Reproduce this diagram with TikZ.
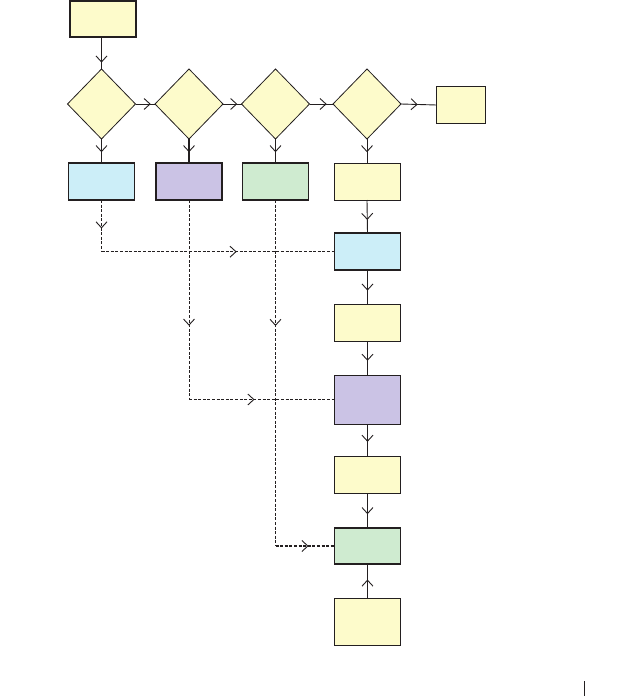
\documentclass[tikz,border=0pt]{standalone}
\usetikzlibrary{shapes.geometric,arrows.meta,decorations.markings}
\definecolor{fyel}{HTML}{FDFBCB}
\definecolor{fblu}{HTML}{CCEEF8}
\definecolor{fpur}{HTML}{CBC3E5}
\definecolor{fgrn}{HTML}{CFEBD0}
\definecolor{ink}{HTML}{231F20}
\tikzset{
  x=1pt,y=-1pt,
  boxthin/.style={draw=ink,line width=0.9pt,rectangle,inner sep=0,outer sep=0,minimum width=66pt,minimum height=37pt},
  boxthick/.style={boxthin,line width=1.5pt},
  dia/.style={draw=ink,line width=0.8pt,diamond,fill=fyel,inner sep=0,outer sep=0,minimum width=68pt,minimum height=70pt},
  conn/.style={draw=ink,line width=0.9pt},
  dconn/.style={draw=ink,line width=1pt,dash pattern=on 3pt off 1.6pt},
  midarr/.style={postaction={decorate,decoration={markings,
      mark=at position #1 with {\arrow[solid,line width=0.9pt]{Straight Barb[length=6pt,width=11pt]}}}}},
  midarr/.default=0.55
}
\begin{document}
\begin{tikzpicture}
\useasboundingbox (0,0) rectangle (641,696);
% top box
\node[boxthick,fill=fyel,minimum width=66pt,minimum height=36pt] (start) at (103,19) {};
% diamonds
\node[dia] (d1) at (101.5,104) {};
\node[dia] (d2) at (189,104) {};
\node[dia] (d3) at (275.5,104) {};
\node[dia] (d4) at (367,104) {};
\node[boxthick,fill=fyel,minimum width=49pt,minimum height=37pt] (endb) at (461,105) {};
% row boxes
\node[boxthick,fill=fblu] (b1) at (101.5,181.5) {};
\node[boxthick,fill=fpur] (b2) at (189,181.5) {};
\node[boxthick,fill=fgrn] (b3) at (275.5,181.5) {};
\node[boxthin,fill=fyel] (b4) at (367,181.5) {};
% column
\node[boxthick,fill=fblu] (c1) at (367.5,251.7) {};
\node[boxthin,fill=fyel] (c2) at (367.5,322.7) {};
\node[boxthin,fill=fpur,minimum height=49pt] (c3) at (367.5,399.5) {};
\node[boxthin,fill=fyel] (c4) at (367.5,475) {};
\node[boxthick,fill=fgrn,minimum height=36pt] (c5) at (367.5,546) {};
\node[boxthin,fill=fyel,minimum height=47pt] (c6) at (367.5,622) {};
% solid connectors
\draw[conn,midarr=0.8] (start.south -| d1.north) -- (d1.north);
\draw[conn,midarr=0.78] (d1.east) -- (d2.west);
\draw[conn,midarr=0.77] (d2.east) -- (d3.west);
\draw[conn,midarr=0.73] (d3.east) -- (d4.west);
\draw[conn,midarr=0.47] (d4.east) -- (endb.west);
\draw[conn,midarr] (d1.south) -- (b1.north);
\draw[conn,line width=1.3pt,midarr] (d2.south) -- (b2.north);
\draw[conn,line width=1.3pt,midarr] (d3.south) -- (b3.north);
\draw[conn,midarr] (d4.south) -- (b4.north);
\draw[conn,midarr=0.6] (b4.south) -- (c1.north);
\draw[conn,midarr=0.6] (c1.south) -- (c2.north);
\draw[conn,midarr=0.58] (c2.south) -- (c3.north);
\draw[conn,midarr=0.55] (c3.south) -- (c4.north);
\draw[conn,midarr=0.6] (c4.south) -- (c5.north);
\draw[conn,midarr=0.55] (c6.north) -- (c5.south);
% dashed connectors
\coordinate (k1) at (b1.south |- c1.west);
\coordinate (k2) at (b2.south |- c3.west);
\coordinate (k3) at (b3.south |- c5.west);
\draw[dconn,midarr=0.55] (b1.south) -- (k1);
\draw[dconn,line width=1.2pt,midarr=0.58] (k1) -- (c1.west);
\draw[dconn,midarr=0.63] (b2.south) -- (k2);
\draw[dconn,midarr=0.45] (k2) -- (c3.west);
\draw[dconn,midarr=0.364] (b3.south) -- (k3);
\draw[dconn,line width=1.3pt,midarr=0.56] (k3) -- (c5.west);
% stray mark
\draw[ink,line width=1pt] (584.5,681) -- (584.5,696);
\end{tikzpicture}
\end{document}
